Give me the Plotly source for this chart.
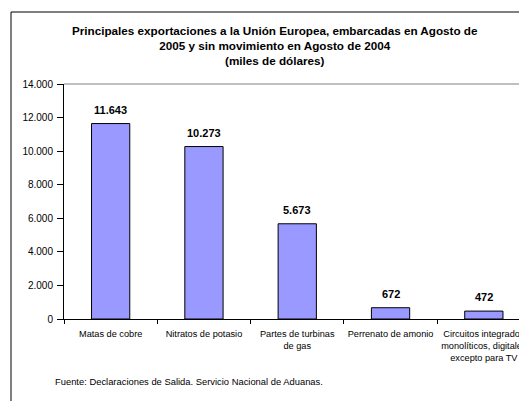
import plotly.graph_objects as go

categories = ["Matas de cobre", "Nitratos de potasio", "Partes de turbinas<br>de gas",
              "Perrenato de amonio", "Circuitos integrados<br>monolíticos, digitales<br>excepto para TV"]
values = [11643, 10273, 5673, 672, 472]
value_labels = ["11.643", "10.273", "5.673", "672", "472"]
y_tickvals = [0, 2000, 4000, 6000, 8000, 10000, 12000, 14000]
y_ticktext = ["0", "2.000", "4.000", "6.000", "8.000", "10.000", "12.000", "14.000"]

OFF = 8  # default page body margin
W, H = 527 - OFF, 401 - OFF
L, T = 64 - OFF, 84 - OFF
PB = 319 - OFF  # plot bottom in figure pixels
B = H - PB
R = 0
pw, ph = W - L - R, H - T - B

def px(x):  # x in screenshot pixels
    return (x - OFF - L) / pw

def py(y):  # y in screenshot pixels
    return (PB - (y - OFF)) / ph

FONT = "Liberation Sans, Arial, sans-serif"

fig = go.Figure()
fig.add_trace(go.Bar(
    x=categories, y=values,
    marker=dict(color="#9999FF", line=dict(color="black", width=1)),
    width=0.41,
    hoverinfo="skip",
))

for c, v, t in zip(categories, values, value_labels):
    fig.add_annotation(x=c, y=v, text="<b>" + t + "</b>", showarrow=False,
                       yanchor="bottom", yshift=6,
                       font=dict(family=FONT, size=11, color="black"))

fig.add_annotation(xref="paper", yref="paper", x=px(275), y=py(45),
                   text="<b>Principales exportaciones a la Unión Europea, embarcadas en Agosto de<br>"
                        "2005 y sin movimiento en Agosto de 2004<br>(miles de dólares)</b>",
                   showarrow=False, xanchor="center", yanchor="middle",
                   font=dict(family=FONT, size=11.7, color="black"))

fig.add_annotation(xref="paper", yref="paper", x=px(53), y=py(381),
                   text="Fuente: Declaraciones de Salida. Servicio Nacional de Aduanas.",
                   showarrow=False, xanchor="left", yanchor="middle",
                   font=dict(family=FONT, size=9.4, color="black"))

# outer chart frame
fig.add_shape(type="rect", xref="paper", yref="paper",
              x0=px(11), x1=px(600), y0=py(500), y1=py(12),
              line=dict(color="black", width=1), layer="above")
# plot area top border
fig.add_shape(type="line", xref="paper", yref="paper",
              x0=0, x1=1, y0=1, y1=1, line=dict(color="#808080", width=1))

fig.update_layout(
    width=W, height=H,
    margin=dict(l=L, r=R, t=T, b=B, autoexpand=False),
    paper_bgcolor="white", plot_bgcolor="white",
    showlegend=False,
    font=dict(family=FONT, size=10, color="black"),
    xaxis=dict(
        type="category", range=[-0.5, -0.5 + pw / 93.3],
        showline=True, linecolor="black", linewidth=1,
        ticks="outside", ticklen=4, tickcolor="black", tickson="boundaries",
        tickangle=0, automargin=False, ticklabelstandoff=6,
        showgrid=False, zeroline=False,
        tickfont=dict(family=FONT, size=9.2, color="black"),
        fixedrange=True,
    ),
    yaxis=dict(
        range=[0, 14000], tickvals=y_tickvals, ticktext=y_ticktext,
        showline=True, linecolor="black", linewidth=1,
        ticks="outside", ticklen=6, tickcolor="black", ticklabelstandoff=2,
        showgrid=False, zeroline=False, automargin=False,
        tickfont=dict(family=FONT, size=10, color="black"),
        fixedrange=True,
    ),
)

fig.write_html("out.html")
